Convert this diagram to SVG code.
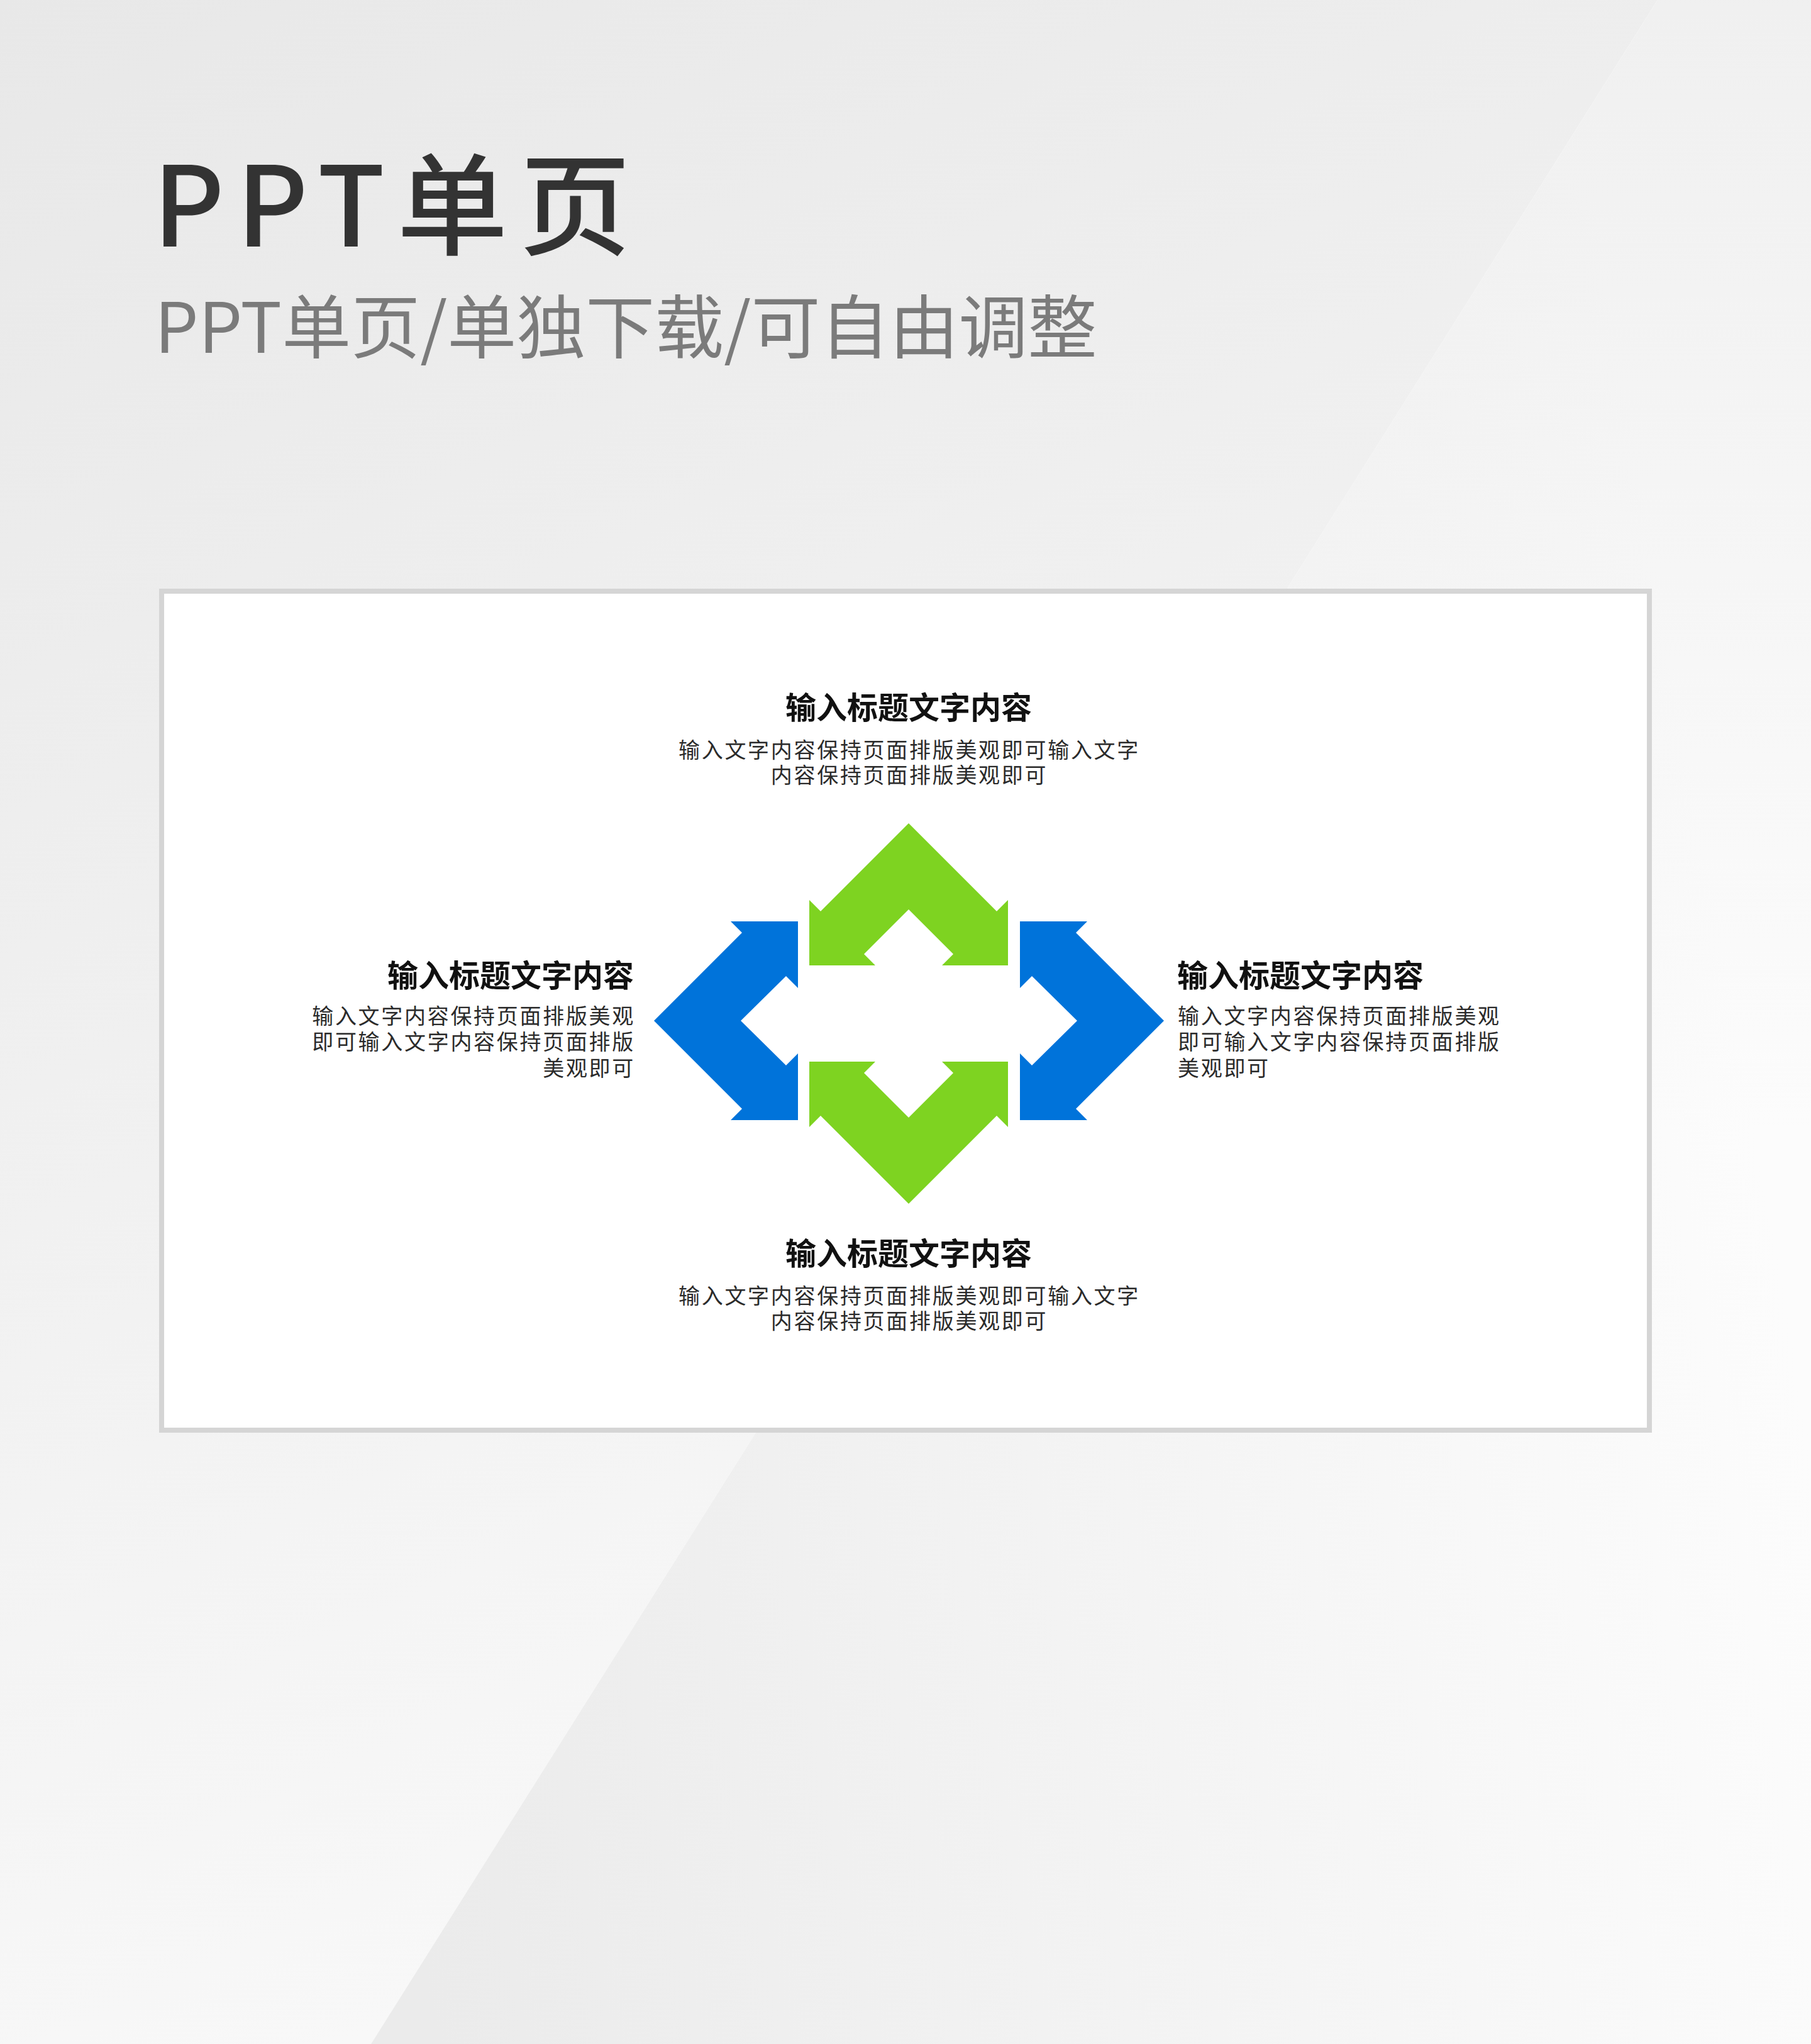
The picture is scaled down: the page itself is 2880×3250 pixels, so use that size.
<svg xmlns="http://www.w3.org/2000/svg" width="2880" height="3250" viewBox="0 0 2880 3250">
  <defs>
    <linearGradient id="bgA" gradientUnits="userSpaceOnUse" x1="0" y1="0" x2="1500" y2="3250">
      <stop offset="0" stop-color="#e8e8e8"/>
      <stop offset="1" stop-color="#fafafa"/>
    </linearGradient>
    <linearGradient id="bgB" gradientUnits="userSpaceOnUse" x1="600" y1="2700" x2="2880" y2="2300">
      <stop offset="0" stop-color="#ebebeb"/>
      <stop offset="1" stop-color="#fcfcfc"/>
    </linearGradient>
    <linearGradient id="bgBtop" gradientUnits="userSpaceOnUse" x1="0" y1="0" x2="0" y2="1800">
      <stop offset="0" stop-color="#e6e6e6" stop-opacity="0.55"/>
      <stop offset="1" stop-color="#e6e6e6" stop-opacity="0"/>
    </linearGradient>
    <style>
      .cjk { font-family: "Noto Sans CJK SC", "Noto Sans", sans-serif; }
      .h1 { font-size: 176px; font-weight: 500; fill: #333333; letter-spacing: 19px; }
      .h2 { font-size: 110px; font-weight: 400; fill: #7b7b7b; }
      .nt { font-size: 49px; font-weight: 700; fill: #111111; }
      .nb { font-size: 34px; font-weight: 400; fill: #2b2b2b; letter-spacing: 2.7px; }
      .blue { fill: #0073da; }
      .green { fill: #7ed321; }
    </style>
  </defs>

  <g id="background">
    <polygon points="0,0 2636,0 590,3250 0,3250" fill="url(#bgA)"/>
    <polygon points="2636,0 2880,0 2880,3250 590,3250" fill="url(#bgB)"/>
    <polygon points="2636,0 2880,0 2880,3250 590,3250" fill="url(#bgBtop)"/>
  </g>

  <g id="header" class="cjk">
    <text class="h1" x="243" y="392">PPT单页</text>
    <text class="h2" x="246" y="561">PPT单页/单独下载/可自由调整</text>
  </g>

  <rect id="panel" x="257" y="940" width="2366" height="1334" fill="#ffffff" stroke="#d5d5d5" stroke-width="8"/>

  <g id="connectors">
    <polygon id="arrow-up" class="green" points="1445,1309 1585,1449 1603,1431 1603,1535 1498,1535 1516,1517 1445,1446 1374,1517 1392,1535 1287,1535 1287,1431 1305,1449"/>
    <polygon id="arrow-down" class="green" points="1445,1914 1585,1774 1603,1792 1603,1688 1498,1688 1516,1706 1445,1777 1374,1706 1392,1688 1287,1688 1287,1792 1305,1774"/>
    <polygon id="arrow-left" class="blue" points="1040,1623 1180,1483 1162,1465 1269,1465 1269,1571 1250,1552 1178,1623 1250,1694 1269,1675 1269,1781 1162,1781 1180,1763"/>
    <polygon id="arrow-right" class="blue" points="1851,1623 1711,1483 1729,1465 1622,1465 1622,1571 1641,1552 1713,1623 1641,1694 1622,1675 1622,1781 1729,1781 1711,1763"/>
  </g>

  <g id="node-top" class="cjk" text-anchor="middle">
    <text class="nt" x="1445" y="1143">输入标题文字内容</text>
    <text class="nb" x="1446" y="1205">输入文字内容保持页面排版美观即可输入文字</text>
    <text class="nb" x="1446" y="1245">内容保持页面排版美观即可</text>
  </g>

  <g id="node-bottom" class="cjk" text-anchor="middle">
    <text class="nt" x="1445" y="2011">输入标题文字内容</text>
    <text class="nb" x="1446" y="2073">输入文字内容保持页面排版美观即可输入文字</text>
    <text class="nb" x="1446" y="2113">内容保持页面排版美观即可</text>
  </g>

  <g id="node-left" class="cjk" text-anchor="end">
    <text class="nt" x="1008" y="1569">输入标题文字内容</text>
    <text class="nb" x="1010" y="1628">输入文字内容保持页面排版美观</text>
    <text class="nb" x="1010" y="1669">即可输入文字内容保持页面排版</text>
    <text class="nb" x="1010" y="1711">美观即可</text>
  </g>

  <g id="node-right" class="cjk" text-anchor="start">
    <text class="nt" x="1872" y="1569">输入标题文字内容</text>
    <text class="nb" x="1873" y="1628">输入文字内容保持页面排版美观</text>
    <text class="nb" x="1873" y="1669">即可输入文字内容保持页面排版</text>
    <text class="nb" x="1873" y="1711">美观即可</text>
  </g>
</svg>
